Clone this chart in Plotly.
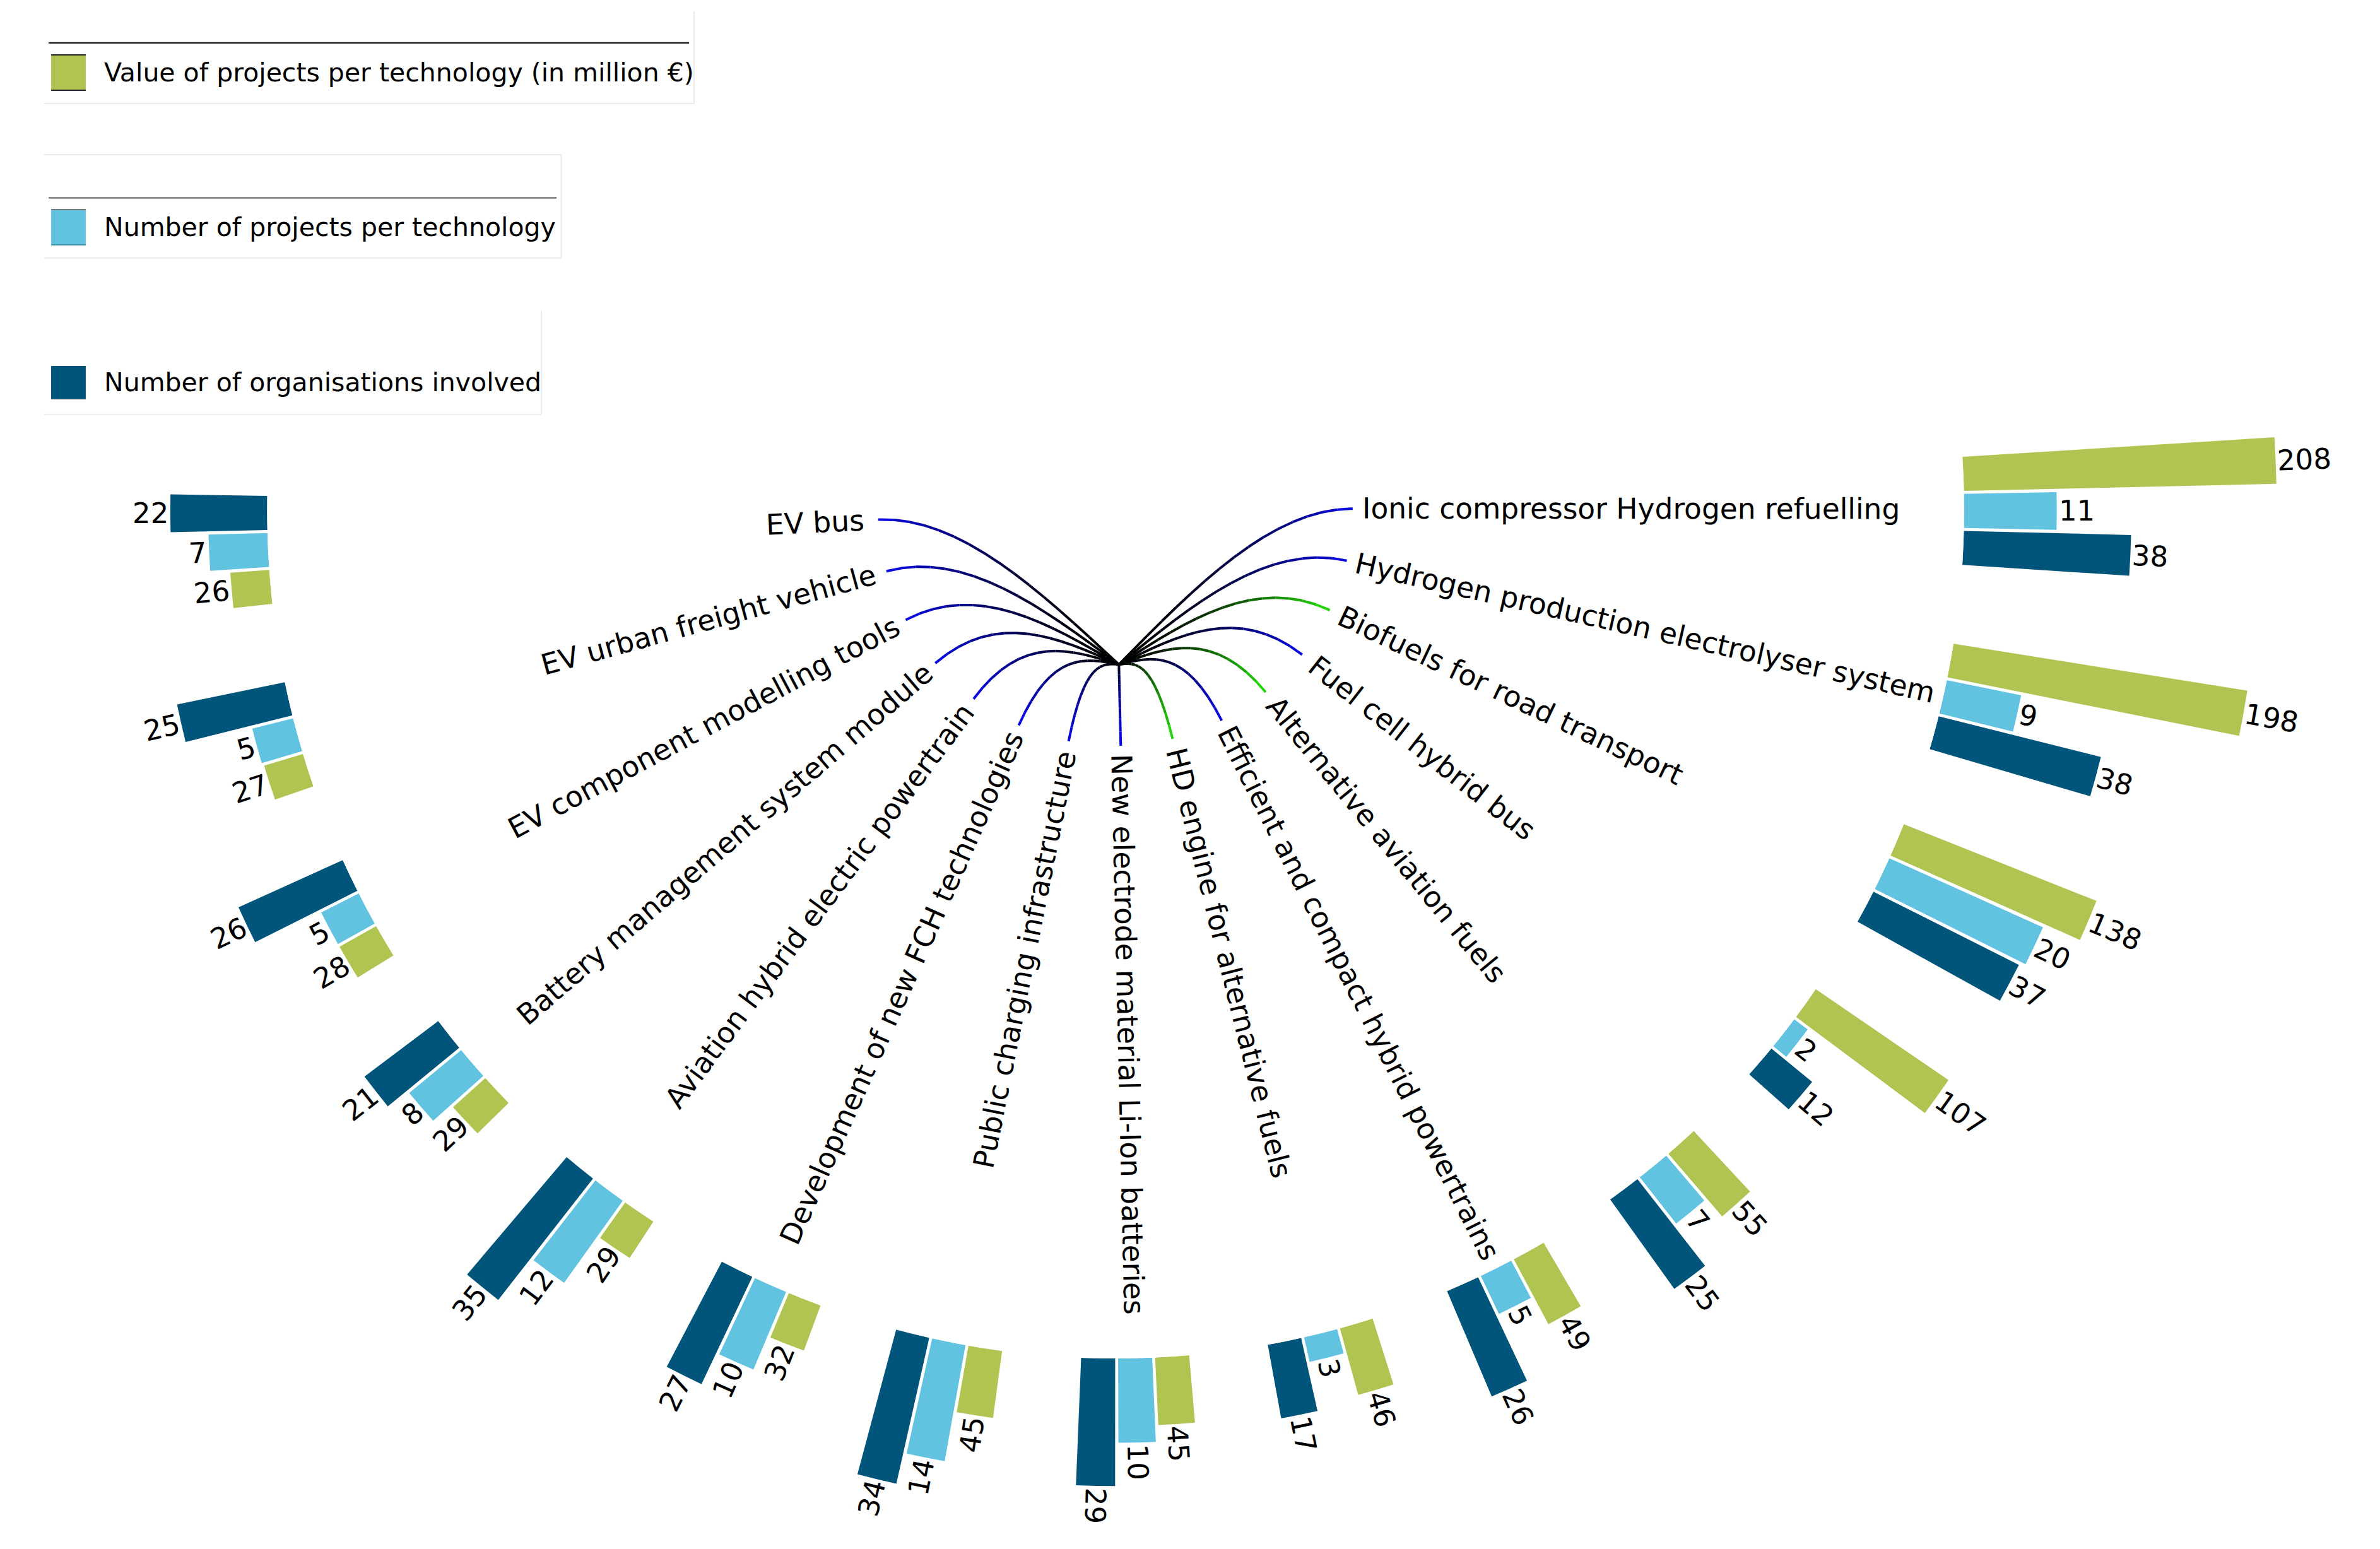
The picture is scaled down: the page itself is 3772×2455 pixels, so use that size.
import math
import plotly.graph_objects as go

# ---------------- data ----------------
technologies = [
    "EV bus", "EV urban freight vehicle", "EV component modelling tools",
    "Battery management system module", "Aviation hybrid electric powertrain",
    "Development of new FCH technologies", "Public charging infrastructure",
    "New electrode material Li-Ion batteries", "HD engine for alternative fuels",
    "Efficient and compact hybrid powertrains", "Alternative aviation fuels",
    "Fuel cell hybrid bus", "Biofuels for road transport",
    "Hydrogen production electrolyser system", "Ionic compressor Hydrogen refuelling",
]
organisations = [22, 25, 26, 21, 35, 27, 34, 29, 17, 26, 25, 12, 37, 38, 38]
projects = [7, 5, 5, 8, 12, 10, 14, 10, 3, 5, 7, 2, 20, 9, 11]
value_meur = [26, 27, 28, 29, 29, 32, 45, 45, 46, 49, 55, 107, 138, 198, 208]
tech_family = ["electric/hydrogen"] * 8 + ["alternative fuels", "electric/hydrogen",
               "alternative fuels", "electric/hydrogen", "alternative fuels",
               "electric/hydrogen", "electric/hydrogen"]
series_names = ["Value of projects per technology (in million €)",
                "Number of projects per technology",
                "Number of organisations involved"]

# ---------------- style / geometry ----------------
W, H = 3772, 2455
S = W / 1568.0
FONT = "DejaVu Sans"
DARK, LIGHT, GREEN = "#02557a", "#62c3e1", "#b0c452"
LINK_END = {"electric/hydrogen": (10, 10, 235), "alternative fuels": (35, 225, 10)}


def P(v):
    return v * S


BAR_CX, BAR_CY = P(735), P(336)
R0 = P(559)
LAB_CX, LAB_CY = 1767.6, 805.9      # pixels
LAB_R, HUB_R = 376.2, 247.4          # pixels
ANG0, STEP = 182.7, 12.66
OFF, BW = 2.5, 2.3
PX_ORG, PX_PRJ, PX_VAL = P(2.9), P(5.55), P(0.99)
R_SMALL, R_BIG = 1630.0, 1880.0
SECT_SMALL, SECT_BIG = [175, 367], [315, 366]
BIG_FROM = 11
NUM_SIZE, LAB_SIZE, LEG_SIZE = 45, 45.5, 41

DJV = {' ': 651, '-': 739, '(': 799, ')': 799, '€': 1303,
       'A': 1401, 'B': 1405, 'C': 1430, 'D': 1577, 'E': 1294, 'F': 1178, 'H': 1540,
       'I': 604, 'L': 1141, 'N': 1532, 'P': 1235, 'V': 1401,
       'a': 1255, 'b': 1300, 'c': 1126, 'd': 1300, 'e': 1260, 'f': 721, 'g': 1300,
       'h': 1298, 'i': 569, 'j': 569, 'k': 1186, 'l': 569, 'm': 1995, 'n': 1298,
       'o': 1253, 'p': 1300, 'q': 1300, 'r': 842, 's': 1067, 't': 803, 'u': 1298,
       'v': 1212, 'w': 1675, 'x': 1212, 'y': 1212, 'z': 1075}


def text_w(s, size):
    return 0.975 * sum(DJV.get(ch, 1303) for ch in s) / 2048.0 * size


def gang(i):
    return ANG0 + STEP * i


def unit(theta):
    a = math.radians(theta)
    return math.cos(a), -math.sin(a)


def sector_bbox(s0, s1):
    arc = s1 - s0
    a0 = s0 % 360
    a1 = a0 + arc
    ax0, ay0 = math.cos(math.radians(a0)), math.sin(math.radians(a0))
    ax1, ay1 = math.cos(math.radians(a1)), math.sin(math.radians(a1))
    if (a0 <= 90 and a1 >= 90) or (a0 > 90 and a1 >= 450):
        y1 = 1
    elif ay0 <= 0 and ay1 <= 0:
        y1 = 0
    else:
        y1 = max(ay0, ay1)
    if (a0 <= 180 and a1 >= 180) or (a0 > 180 and a1 >= 540):
        x0 = -1
    elif ax0 >= 0 and ax1 >= 0:
        x0 = 0
    else:
        x0 = min(ax0, ax1)
    if (a0 <= 270 and a1 >= 270) or (a0 > 270 and a1 >= 630):
        y0 = -1
    elif ay0 >= 0 and ay1 >= 0:
        y0 = 0
    else:
        y0 = min(ay0, ay1)
    if a1 >= 360:
        x1 = 1
    elif ax0 <= 0 and ax1 <= 0:
        x1 = 0
    else:
        x1 = max(ax0, ax1)
    return x0, y0, x1, y1


def clamp01(v):
    return min(1.0, max(0.0, v))


def polar_layout(R, sector, px_per_unit):
    bx0, by0, bx1, by1 = sector_bbox(*sector)
    xd = [clamp01((BAR_CX + bx0 * R) / W), clamp01((BAR_CX + bx1 * R) / W)]
    ytop, ybot = BAR_CY - by1 * R, BAR_CY - by0 * R
    yd = [clamp01(1 - ybot / H), clamp01(1 - ytop / H)]
    hidden = dict(visible=False, showgrid=False, showline=False,
                  showticklabels=False, ticks="")
    return dict(domain=dict(x=xd, y=yd), sector=sector, hole=R0 / R,
                bgcolor="rgba(0,0,0,0)",
                radialaxis=dict(range=[0, (R - R0) / px_per_unit], **hidden),
                angularaxis=dict(rotation=0, direction="counterclockwise",
                                 thetaunit="degrees", **hidden))


fig = go.Figure()
n = len(technologies)
idx = list(range(n))

# ---------------- radial bars ----------------
fig.add_trace(go.Barpolar(r=organisations, theta=[gang(i) - OFF for i in idx],
                          width=[BW] * n, marker=dict(color=DARK, line=dict(width=0)),
                          subplot="polar", name=series_names[2], hoverinfo="skip"))
fig.add_trace(go.Barpolar(r=projects, theta=[gang(i) for i in idx],
                          width=[BW] * n, marker=dict(color=LIGHT, line=dict(width=0)),
                          subplot="polar2", name=series_names[1], hoverinfo="skip"))
small = [i for i in idx if i < BIG_FROM]
big = [i for i in idx if i >= BIG_FROM]
fig.add_trace(go.Barpolar(r=[value_meur[i] for i in small],
                          theta=[gang(i) + OFF for i in small], width=[BW] * len(small),
                          marker=dict(color=GREEN, line=dict(width=0)),
                          subplot="polar3", name=series_names[0], hoverinfo="skip"))
fig.add_trace(go.Barpolar(r=[value_meur[i] for i in big],
                          theta=[gang(i) + OFF for i in big], width=[BW] * len(big),
                          marker=dict(color=GREEN, line=dict(width=0)),
                          subplot="polar4", name=series_names[0], hoverinfo="skip"))

annotations = []


def radial_text(cx, cy, r_start, theta, text, size, inward):
    w = text_w(text, size)
    ux, uy = unit(theta)
    rc = r_start + w / 2.0
    ang = (180 - theta) if inward else (-theta)
    ang = ((ang + 180) % 360) - 180
    return dict(x=cx + rc * ux, y=cy + rc * uy, xref="x", yref="y", text=text,
                showarrow=False, textangle=ang, xanchor="center", yanchor="middle",
                font=dict(family=FONT, size=size, color="black"))


# value labels at bar tips
GAP_NUM = P(1.5)
for vals, off, pxu in [(organisations, -OFF, PX_ORG), (projects, 0.0, PX_PRJ),
                       (value_meur, OFF, PX_VAL)]:
    for i in idx:
        th = gang(i) + off
        annotations.append(radial_text(BAR_CX, BAR_CY, R0 + vals[i] * pxu + GAP_NUM,
                                       th, str(vals[i]), NUM_SIZE, i < 7))

# technology labels
GAP_LAB = 24.0
for i in idx:
    annotations.append(radial_text(LAB_CX, LAB_CY, LAB_R + GAP_LAB, gang(i),
                                   technologies[i], LAB_SIZE, i < 7))

# ---------------- curved links (gradient black -> family colour) ----------------
hx, hy = unit(gang(7))
hub = (LAB_CX + HUB_R * hx, LAB_CY + HUB_R * hy)


def bez(p0, p1, p2, p3, t):
    mt = 1 - t
    a, b, c, d = mt ** 3, 3 * mt * mt * t, 3 * mt * t * t, t ** 3
    return (a * p0[0] + b * p1[0] + c * p2[0] + d * p3[0],
            a * p0[1] + b * p1[1] + c * p2[1] + d * p3[1])


K = 16
for fam, endc in LINK_END.items():
    members = [i for i in idx if tech_family[i] == fam]
    for k in range(K):
        xs, ys = [], []
        for i in members:
            ux, uy = unit(gang(i))
            p2 = (LAB_CX + HUB_R * ux, LAB_CY + HUB_R * uy)
            p1 = ((hub[0] + p2[0]) / 2, (hub[1] + p2[1]) / 2)
            p3 = (LAB_CX + LAB_R * ux, LAB_CY + LAB_R * uy)
            for j in range(7):
                t = (k + j / 6.0) / K
                x, y = bez(hub, p1, p2, p3, t)
                xs.append(x)
                ys.append(y)
            xs.append(None)
            ys.append(None)
        f = ((k + 0.5) / K) ** 1.7
        col = "rgb(%d,%d,%d)" % tuple(int(round(c * f)) for c in endc)
        fig.add_trace(go.Scatter(x=xs, y=ys, mode="lines", xaxis="x", yaxis="y",
                                 line=dict(color=col, width=4), hoverinfo="skip",
                                 showlegend=False))

# ---------------- legend (three separate boxes) ----------------
shapes = []


def line(x0, y0, x1, y1, color, width):
    shapes.append(dict(type="line", xref="x", yref="y", x0=P(x0), y0=P(y0),
                       x1=P(x1), y1=P(y1), line=dict(color=color, width=width)))


legend_items = [(series_names[0], GREEN, 36.2, 59.4), (series_names[1], LIGHT, 138, 161.3),
                (series_names[2], DARK, 241.1, 263.1)]
for name, col, y0, y1 in legend_items:
    shapes.append(dict(type="rect", xref="x", yref="y", x0=P(33.7), x1=P(56.5), y0=P(y0),
                       y1=P(y1), fillcolor=col, line=dict(width=0)))
    annotations.append(dict(x=P(67.8), y=P((y0 + y1) / 2), xref="x", yref="y", text=name,
                            showarrow=False, xanchor="left", yanchor="middle",
                            font=dict(family=FONT, size=LEG_SIZE, color="black")))

FAINT = "#ebebeb"
line(32, 28.3, 454, 28.3, "#222222", 2.5)
line(32, 130.3, 366.7, 130.3, "#777777", 2.5)
line(457.3, 7.5, 457.3, 68.2, FAINT, 2)
line(29, 68.2, 457.3, 68.2, FAINT, 2)
line(29, 101.8, 369.8, 101.8, FAINT, 2)
line(369.8, 101.8, 369.8, 170, FAINT, 2)
line(29, 170, 369.8, 170, FAINT, 2)
line(356.7, 205, 356.7, 273, FAINT, 2)
line(29, 273, 356.7, 273, FAINT, 2)
line(33.7, 36.2, 56.5, 36.2, "#222222", 2)
line(33.7, 59.4, 56.5, 59.4, "#222222", 2)
line(33.7, 138, 56.5, 138, "#777777", 2)
line(33.7, 161.3, 56.5, 161.3, "#3f8fa8", 2)
line(33.7, 263.1, 56.5, 263.1, "#cccccc", 2)

fig.update_layout(
    width=W, height=H, margin=dict(l=0, r=0, t=0, b=0, pad=0),
    paper_bgcolor="white", plot_bgcolor="rgba(0,0,0,0)", showlegend=False,
    xaxis=dict(range=[0, W], domain=[0, 1], visible=False, fixedrange=True),
    yaxis=dict(range=[H, 0], domain=[0, 1], visible=False, fixedrange=True),
    polar=polar_layout(R_SMALL, SECT_SMALL, PX_ORG),
    polar2=polar_layout(R_SMALL, SECT_SMALL, PX_PRJ),
    polar3=polar_layout(R_SMALL, SECT_SMALL, PX_VAL),
    polar4=polar_layout(R_BIG, SECT_BIG, PX_VAL),
    annotations=annotations, shapes=shapes,
)

fig.write_html("out.html", config={"displayModeBar": False},
               post_script="document.body.style.margin='0px';")
